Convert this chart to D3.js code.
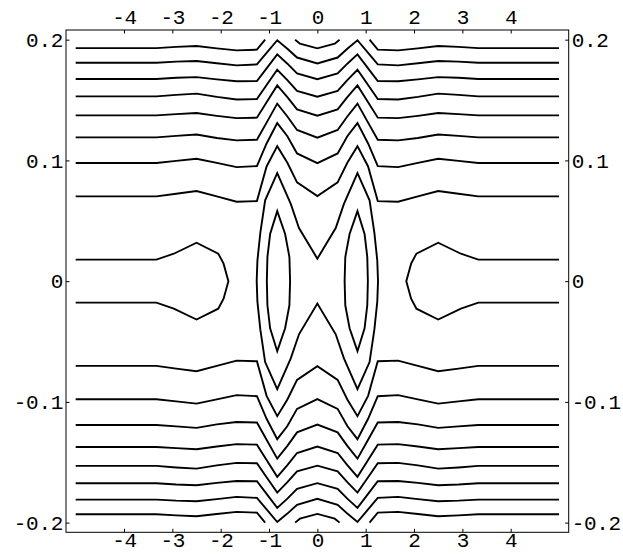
<!DOCTYPE html>
<html><head><meta charset="utf-8">
<script src="https://cdn.jsdelivr.net/npm/d3@7"></script>
<style>body{margin:0;background:#fff} svg{display:block}</style>
</head><body>
<svg id="c" width="623" height="554"></svg>
<script>
// ---- tick data ----
const xTicks = [-4, -3, -2, -1, 0, 1, 2, 3, 4];
const xTickLabels = ["-4", "-3", "-2", "-1", "0", "1", "2", "3", "4"];
const yTicks = [-0.2, -0.1, 0, 0.1, 0.2];
const yTickLabels = ["-0.2", "-0.1", "0", "0.1", "0.2"];

// ---- contour vertices ----
const xKnots = [-5, -3.33, -2.92, -2.5, -2.08, -1.67, -1.25, -1.05, -0.83, -0.62, -0.42, 0, 0.42, 0.62, 0.83, 1.05, 1.25, 1.67, 2.08, 2.5, 2.92, 3.33, 5];

const L8upper = [0.1809, 0.1809, 0.1818, 0.1823, 0.1805, 0.1787, 0.1795, 0.1890, 0.1995, 0.1925, 0.1852, 0.1803, 0.1852, 0.1925, 0.1995, 0.1890, 0.1795, 0.1787, 0.1805, 0.1823, 0.1818, 0.1809, 0.1809];
const L7upper = [0.1674, 0.1674, 0.1684, 0.1690, 0.1671, 0.1655, 0.1657, 0.1762, 0.1878, 0.1801, 0.1721, 0.1673, 0.1721, 0.1801, 0.1878, 0.1762, 0.1657, 0.1655, 0.1671, 0.1690, 0.1684, 0.1674, 0.1674];
const L6upper = [0.1530, 0.1530, 0.1543, 0.1553, 0.1526, 0.1505, 0.1508, 0.1624, 0.1751, 0.1665, 0.1575, 0.1528, 0.1575, 0.1665, 0.1751, 0.1624, 0.1508, 0.1505, 0.1526, 0.1553, 0.1543, 0.1530, 0.1530];
const L5upper = [0.1373, 0.1373, 0.1383, 0.1392, 0.1369, 0.1350, 0.1354, 0.1481, 0.1621, 0.1524, 0.1423, 0.1370, 0.1423, 0.1524, 0.1621, 0.1481, 0.1354, 0.1350, 0.1369, 0.1392, 0.1383, 0.1373, 0.1373];
const L4upper = [0.1191, 0.1191, 0.1203, 0.1215, 0.1186, 0.1166, 0.1171, 0.1313, 0.1470, 0.1364, 0.1252, 0.1188, 0.1252, 0.1364, 0.1470, 0.1313, 0.1171, 0.1166, 0.1186, 0.1215, 0.1203, 0.1191, 0.1191];
const L3upper = [0.0978, 0.0978, 0.0996, 0.1014, 0.0979, 0.0944, 0.0953, 0.1140, 0.1309, 0.1200, 0.1058, 0.0977, 0.1058, 0.1200, 0.1309, 0.1140, 0.0953, 0.0944, 0.0979, 0.1014, 0.0996, 0.0978, 0.0978];
const L2upper = [0.0702, 0.0702, 0.0724, 0.0746, 0.0702, 0.0658, 0.0663, 0.0950, 0.1118, 0.0980, 0.0818, 0.0704, 0.0818, 0.0980, 0.1118, 0.0950, 0.0663, 0.0658, 0.0702, 0.0746, 0.0724, 0.0702, 0.0702];

const L2lower = [-0.0702, -0.0702, -0.0724, -0.0746, -0.0702, -0.0658, -0.0663, -0.0950, -0.1118, -0.0980, -0.0818, -0.0704, -0.0818, -0.0980, -0.1118, -0.0950, -0.0663, -0.0658, -0.0702, -0.0746, -0.0724, -0.0702, -0.0702];
const L3lower = [-0.0978, -0.0978, -0.0996, -0.1014, -0.0979, -0.0944, -0.0953, -0.1140, -0.1309, -0.1200, -0.1058, -0.0977, -0.1058, -0.1200, -0.1309, -0.1140, -0.0953, -0.0944, -0.0979, -0.1014, -0.0996, -0.0978, -0.0978];
const L4lower = [-0.1191, -0.1191, -0.1203, -0.1215, -0.1186, -0.1166, -0.1171, -0.1313, -0.1470, -0.1364, -0.1252, -0.1188, -0.1252, -0.1364, -0.1470, -0.1313, -0.1171, -0.1166, -0.1186, -0.1215, -0.1203, -0.1191, -0.1191];
const L5lower = [-0.1373, -0.1373, -0.1383, -0.1392, -0.1369, -0.1350, -0.1354, -0.1481, -0.1621, -0.1524, -0.1423, -0.1370, -0.1423, -0.1524, -0.1621, -0.1481, -0.1354, -0.1350, -0.1369, -0.1392, -0.1383, -0.1373, -0.1373];
const L6lower = [-0.1530, -0.1530, -0.1543, -0.1553, -0.1526, -0.1505, -0.1508, -0.1624, -0.1751, -0.1665, -0.1575, -0.1528, -0.1575, -0.1665, -0.1751, -0.1624, -0.1508, -0.1505, -0.1526, -0.1553, -0.1543, -0.1530, -0.1530];
const L7lower = [-0.1674, -0.1674, -0.1684, -0.1690, -0.1671, -0.1655, -0.1657, -0.1762, -0.1878, -0.1801, -0.1721, -0.1673, -0.1721, -0.1801, -0.1878, -0.1762, -0.1657, -0.1655, -0.1671, -0.1690, -0.1684, -0.1674, -0.1674];
const L8lower = [-0.1809, -0.1809, -0.1818, -0.1823, -0.1805, -0.1787, -0.1795, -0.1890, -0.1995, -0.1925, -0.1852, -0.1803, -0.1852, -0.1925, -0.1995, -0.1890, -0.1795, -0.1787, -0.1805, -0.1823, -0.1818, -0.1809, -0.1809];

// outermost level: clipped by the plot range into three pieces each side
const L9upperLeft = [[-5, 0.1930], [-3.33, 0.1930], [-2.92, 0.1940], [-2.5, 0.1947], [-2.08, 0.1928], [-1.67, 0.1911], [-1.25, 0.1917], [-1.08, 0.2]];
const L9upperMid = [[-0.46, 0.2], [-0.36, 0.1967], [0, 0.1928], [0.36, 0.1967], [0.46, 0.2]];
const L9upperRight = [[1.08, 0.2], [1.25, 0.1917], [1.67, 0.1911], [2.08, 0.1928], [2.5, 0.1947], [2.92, 0.1940], [3.33, 0.1930], [5, 0.1930]];
const L9lowerLeft = [[-5, -0.1930], [-3.33, -0.1930], [-2.92, -0.1940], [-2.5, -0.1947], [-2.08, -0.1928], [-1.67, -0.1911], [-1.25, -0.1917], [-1.08, -0.2]];
const L9lowerMid = [[-0.46, -0.2], [-0.36, -0.1967], [0, -0.1928], [0.36, -0.1967], [0.46, -0.2]];
const L9lowerRight = [[1.08, -0.2], [1.25, -0.1917], [1.67, -0.1911], [2.08, -0.1928], [2.5, -0.1947], [2.92, -0.1940], [3.33, -0.1930], [5, -0.1930]];

// innermost open level: side "C" shapes
const L1left = [[-5, 0.0178], [-3.33, 0.0178], [-2.97, 0.0227], [-2.5, 0.0318], [-2.05, 0.0228], [-1.94, 0.0145], [-1.84, 0], [-1.94, -0.0145], [-2.05, -0.0228], [-2.5, -0.0318], [-2.97, -0.0227], [-3.33, -0.0178], [-5, -0.0178]];
const L1right = [[5, 0.0178], [3.33, 0.0178], [2.97, 0.0227], [2.5, 0.0318], [2.05, 0.0228], [1.94, 0.0145], [1.84, 0], [1.94, -0.0145], [2.05, -0.0228], [2.5, -0.0318], [2.97, -0.0227], [3.33, -0.0178], [5, -0.0178]];
// same level: pinched closed loop around both lenses
const L1center = [[0, 0.0186], [-0.38, 0.044], [-0.55, 0.064], [-0.83, 0.0895], [-1.08, 0.067], [-1.18, 0.040], [-1.24, 0.017], [-1.255, 0], [-1.24, -0.017], [-1.18, -0.040], [-1.08, -0.067], [-0.83, -0.0895], [-0.55, -0.064], [-0.38, -0.044], [0, -0.0186], [0.38, -0.044], [0.55, -0.064], [0.83, -0.0895], [1.08, -0.067], [1.18, -0.040], [1.24, -0.017], [1.255, 0], [1.24, 0.017], [1.18, 0.040], [1.08, 0.067], [0.83, 0.0895], [0.55, 0.064], [0.38, 0.044]];
// lowest level: two lenses
const L0left = [[-0.83, 0.058], [-0.667, 0.039], [-0.578, 0.020], [-0.564, 0], [-0.578, -0.020], [-0.667, -0.039], [-0.83, -0.058], [-0.977, -0.039], [-1.033, -0.020], [-1.045, 0], [-1.033, 0.020], [-0.977, 0.039]];
const L0right = [[0.83, 0.058], [0.667, 0.039], [0.578, 0.020], [0.564, 0], [0.578, -0.020], [0.667, -0.039], [0.83, -0.058], [0.977, -0.039], [1.033, -0.020], [1.045, 0], [1.033, 0.020], [0.977, 0.039]];

// ---- drawing ----
const svg = d3.select("#c");
svg.append("rect").attr("width", 623).attr("height", 554).attr("fill", "#fff");

const x = d3.scaleLinear().domain([-5.2, 5.2]).range([66, 568.7]);
const y = d3.scaleLinear().domain([-0.208, 0.208]).range([532.3, 30]);

const line = d3.line().x(d => x(d[0])).y(d => y(d[1]));
const loop = d3.line().x(d => x(d[0])).y(d => y(d[1])).curve(d3.curveLinearClosed);

const bands = [L2upper, L3upper, L4upper, L5upper, L6upper, L7upper, L8upper,
               L2lower, L3lower, L4lower, L5lower, L6lower, L7lower, L8lower];
const openPaths = bands.map(ys => xKnots.map((xv, i) => [xv, ys[i]]))
  .concat([L9upperLeft, L9upperMid, L9upperRight, L9lowerLeft, L9lowerMid, L9lowerRight, L1left, L1right]);
const closedPaths = [L1center, L0left, L0right];

const g = svg.append("g")
  .attr("fill", "none").attr("stroke", "#000").attr("stroke-width", 1.9)
  .attr("stroke-linejoin", "miter").attr("stroke-miterlimit", 6);
g.selectAll("path.open").data(openPaths).join("path").attr("class", "open").attr("d", line);
g.selectAll("path.closed").data(closedPaths).join("path").attr("class", "closed").attr("d", loop);

// frame
const [x0, x1] = x.range();
const [yb, yt] = y.range();
svg.append("rect").attr("x", x0).attr("y", yt).attr("width", x1 - x0).attr("height", yb - yt)
  .attr("fill", "none").attr("stroke", "#000").attr("stroke-width", 1);

const tick = 3.5;
const xl = d => xTickLabels[xTicks.indexOf(d)];
const yl = d => yTickLabels[yTicks.indexOf(d)];

svg.append("g").attr("class", "ax").attr("transform", `translate(0,${yb})`)
  .call(d3.axisBottom(x).tickValues(xTicks).tickFormat(xl).tickSize(-tick).tickPadding(0));
svg.append("g").attr("class", "ax").attr("transform", `translate(0,${yt})`)
  .call(d3.axisTop(x).tickValues(xTicks).tickFormat(xl).tickSize(-tick).tickPadding(6));
svg.append("g").attr("class", "ax").attr("transform", `translate(${x0},0)`)
  .call(d3.axisLeft(y).tickValues(yTicks).tickFormat(yl).tickSize(-tick).tickPadding(3));
svg.append("g").attr("class", "ax").attr("transform", `translate(${x1},0)`)
  .call(d3.axisRight(y).tickValues(yTicks).tickFormat(yl).tickSize(-tick).tickPadding(3));

svg.selectAll(".ax .domain").remove();
svg.selectAll(".ax line").attr("stroke", "#000").attr("stroke-width", 1);
svg.selectAll(".ax text").attr("fill", "#000")
  .style("font-family", "'Liberation Mono', 'DejaVu Sans Mono', monospace")
  .style("font-size", "21px")
  .style("letter-spacing", "-0.3px");
</script>
</body></html>
